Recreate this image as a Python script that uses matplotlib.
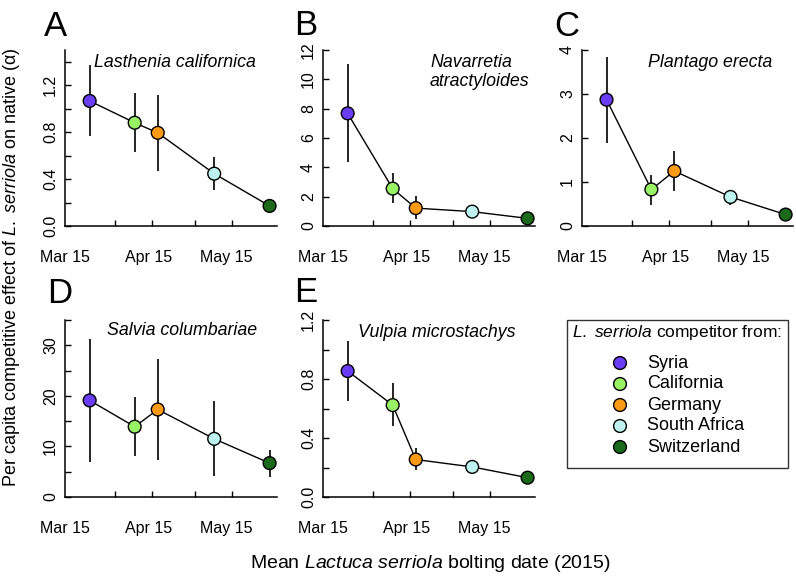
import matplotlib
matplotlib.use("Agg")
import matplotlib.pyplot as plt
from matplotlib.ticker import FixedLocator, NullFormatter
from matplotlib.patches import Rectangle

plt.rcParams['font.family'] = ['Liberation Sans', 'DejaVu Sans']
plt.rcParams['mathtext.fontset'] = 'custom'
plt.rcParams['mathtext.rm'] = 'Liberation Sans'
plt.rcParams['mathtext.it'] = 'Liberation Sans:italic'

# origin of each competitor and its mean bolting date (days after Mar 15)
origins = ["Syria", "California", "Germany", "South Africa", "Switzerland"]
colors = ["#6a3df5", "#99f266", "#ff9a14", "#bdf2ee", "#1b6a1b"]
bolt_day = [7.3, 24.3, 33.0, 54.3, 75.2]

# per capita competitive effect (alpha) with error bar ends, per native species
species = ["Lasthenia californica", "Navarretia\natractyloides", "Plantago erecta",
           "Salvia columbariae", "Vulpia microstachys"]
letters = ["A", "B", "C", "D", "E"]
alpha_lasthenia = [1.066, 0.88, 0.794, 0.446, 0.171]
lo_lasthenia = [0.766, 0.629, 0.466, 0.309, 0.14]
hi_lasthenia = [1.37, 1.137, 1.114, 0.589, 0.20]
alpha_navarretia = [7.68, 2.55, 1.22, 0.98, 0.52]
lo_navarretia = [4.34, 1.55, 0.45, 0.55, 0.35]
hi_navarretia = [11.05, 3.62, 2.05, 1.42, 0.70]
alpha_plantago = [2.87, 0.83, 1.25, 0.66, 0.26]
lo_plantago = [1.89, 0.48, 0.79, 0.48, 0.18]
hi_plantago = [3.83, 1.15, 1.70, 0.78, 0.34]
alpha_salvia = [19.1, 13.9, 17.3, 11.5, 6.7]
lo_salvia = [6.9, 8.2, 7.3, 4.1, 3.9]
hi_salvia = [31.3, 19.7, 27.3, 18.9, 9.3]
alpha_vulpia = [0.854, 0.623, 0.254, 0.204, 0.131]
lo_vulpia = [0.65, 0.48, 0.18, 0.175, 0.11]
hi_vulpia = [1.058, 0.77, 0.33, 0.235, 0.15]

date_labels = ["Mar 15", "Apr 15", "May 15"]
date_label_pos = [-2.0, 29.5, 59.0]
date_ticks = [17, 31, 47, 61]

W, H = 796, 578
fig = plt.figure(figsize=(W / 100, H / 100), dpi=100)

def px_axes(x0, y_top, y_bot, w):
    return fig.add_axes([x0 / W, 1 - y_bot / H, w / W, (y_bot - y_top) / H])

panels = [
    (px_axes(65, 50, 226, 212), alpha_lasthenia, lo_lasthenia, hi_lasthenia, 1.5, 0.4, 0.2, "%.1f"),
    (px_axes(323, 50, 226, 212), alpha_navarretia, lo_navarretia, hi_navarretia, 12, 2, None, "%d"),
    (px_axes(582, 50, 226, 211), alpha_plantago, lo_plantago, hi_plantago, 4, 1, None, "%d"),
    (px_axes(65, 320, 497, 212), alpha_salvia, lo_salvia, hi_salvia, 35, 10, 5, "%d"),
    (px_axes(323, 320, 497, 212), alpha_vulpia, lo_vulpia, hi_vulpia, 1.2, 0.4, 0.2, "%.1f"),
]
title_pos = [(0.52, 0.93, "center"), (0.505, 0.875, "left"), (0.605, 0.93, "center"),
             (0.55, 0.943, "center"), (0.535, 0.93, "center")]
letter_px = [(44, 36), (294, 35), (554, 36), (47, 303), (294, 302)]

for i, (ax, vals, lo, hi, ytop, ymaj, ymin, fmt) in enumerate(panels):
    ax.vlines(bolt_day, lo, hi, color="black", lw=1.2, zorder=1)
    ax.plot(bolt_day, vals, color="black", lw=1.0, zorder=2)
    ax.scatter(bolt_day, vals, s=85, c=colors, edgecolors="black", linewidths=1.0, zorder=3, clip_on=False)
    ax.set_xlim(0, 78)
    ax.set_ylim(0, ytop)
    for s in ["top", "right"]:
        ax.spines[s].set_visible(False)
    for s in ["left", "bottom"]:
        ax.spines[s].set_linewidth(1.1)
    # x: labels and tick marks sit at slightly different places
    ax.set_xticks(date_label_pos)
    ax.set_xticklabels(date_labels)
    ax.tick_params(axis="x", which="major", length=0, pad=17, labelsize=11.5)
    ax.xaxis.set_minor_locator(FixedLocator(date_ticks))
    ax.tick_params(axis="x", which="minor", direction="in", length=4, width=1.0)
    # y
    n = int(round(ytop / ymaj))
    yt = [k * ymaj for k in range(n + 1) if k * ymaj <= ytop + 1e-9]
    ax.set_yticks(yt)
    ax.set_yticklabels([fmt % v for v in yt], rotation=90, va="center")
    ax.tick_params(axis="y", which="major", direction="in", length=4, width=1.0, pad=5, labelsize=11.5)
    if ymin:
        ax.yaxis.set_minor_locator(FixedLocator([k * ymin for k in range(int(round(ytop / ymin)) + 1)
                                                 if k * ymin <= ytop + 1e-9]))
        ax.yaxis.set_minor_formatter(NullFormatter())
        ax.tick_params(axis="y", which="minor", direction="in", length=4, width=1.0)
    ax.patch.set_visible(False)
    tx, ty, ha = title_pos[i]
    ax.text(tx, ty, species[i], transform=ax.transAxes, ha=ha, va="center",
            style="italic", fontsize=12.8, linespacing=1.1)
    lx, ly = letter_px[i]
    fig.text(lx / W, 1 - ly / H, letters[i], fontsize=25, ha="left", va="baseline")

# legend box
lax = fig.add_axes([567 / W, 1 - 468 / H, 221 / W, 148 / H])
lax.set_xlim(0, 221)
lax.set_ylim(148, 0)
lax.axis("off")
lax.add_patch(Rectangle((0, 0), 221, 148, fill=False, edgecolor="#333333", lw=1.0, clip_on=False))
lax.text(5, 13, r"$\mathit{L.\ serriola}$ competitor from:", fontsize=12.5, ha="left", va="center")
rows = [43 + 21 * k for k in range(len(origins))]
lax.scatter([53] * len(origins), rows, s=85, c=colors, edgecolors="black", linewidths=1.0, clip_on=False)
for yy, name in zip(rows, origins):
    lax.text(80, yy, name, fontsize=13, ha="left", va="center")

fig.text(12 / W, 1 - 267 / H, r"Per capita competitive effect of $\mathit{L.\ serriola}$ on native (α)",
         rotation=90, ha="center", va="center", fontsize=13)
fig.text(430 / W, 1 - 564 / H, r"Mean $\mathit{Lactuca\ serriola}$ bolting date (2015)",
         ha="center", va="center", fontsize=14)

fig.savefig("out.png", dpi=100)
